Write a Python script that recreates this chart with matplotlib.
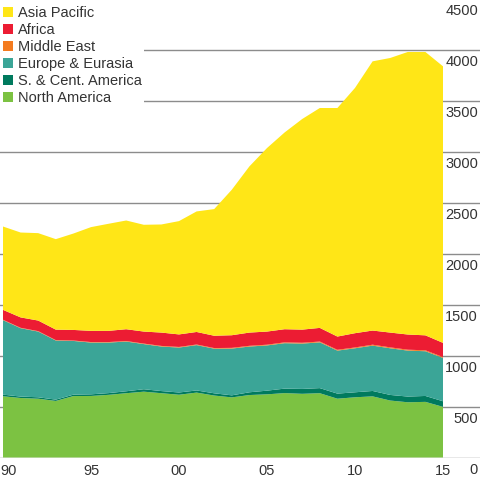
import matplotlib
matplotlib.use("Agg")
import matplotlib.pyplot as plt
import matplotlib.transforms as mtransforms
from matplotlib.patches import Patch
import numpy as np

years = list(range(1990, 2016))

# cumulative tops (Mtoe)
total_top = [2267, 2208, 2202, 2143, 2198, 2261, 2294, 2326, 2284, 2287, 2320, 2415, 2438,
             2628, 2857, 3037, 3190, 3322, 3430, 3430, 3627, 3888, 3921, 3980, 3980, 3839]
africa_top = [1449, 1375, 1344, 1255, 1252, 1243, 1243, 1259, 1236, 1226, 1208, 1232, 1195,
              1200, 1226, 1236, 1259, 1255, 1272, 1187, 1220, 1246, 1226, 1207, 1199, 1125]
europe_top = [1348, 1269, 1236, 1148, 1144, 1128, 1128, 1138, 1113, 1089, 1079, 1103, 1068,
              1069, 1089, 1100, 1122, 1118, 1130, 1049, 1072, 1098, 1072, 1049, 1043, 977]
sca_top = [617, 598, 591, 568, 617, 620, 632, 650, 670, 652, 638, 658, 630,
           610, 640, 656, 676, 673, 681, 627, 640, 653, 614, 598, 604, 552]
sca_vals = [16, 14, 14, 13, 14, 16, 17, 19, 24, 21, 22, 21, 22,
            20, 27, 36, 44, 48, 50, 50, 49, 53, 55, 56, 58, 55]
me_vals = [4, 4, 4, 4, 4, 5, 5, 5, 5, 6, 6, 6, 6,
           7, 7, 7, 8, 8, 8, 8, 8, 9, 9, 9, 9, 9]

north_america = [t - s for t, s in zip(sca_top, sca_vals)]
sc_america = sca_vals
europe = [e - s for e, s in zip(europe_top, sca_top)]
middle_east = me_vals
africa = [a - m - e for a, m, e in zip(africa_top, me_vals, europe_top)]
asia_pacific = [t - a for t, a in zip(total_top, africa_top)]

series_labels = ["North America", "S. & Cent. America", "Europe & Eurasia",
                 "Middle East", "Africa", "Asia Pacific"]
colors = ["#7cc242", "#007a5e", "#3ba597", "#f47b20", "#ec1c33", "#ffe617"]

xtick_years = [1990, 1995, 2000, 2005, 2010, 2015]
xtick_labels = ["90", "95", "00", "05", "10", "15"]
ytick_vals = [0, 500, 1000, 1500, 2000, 2500, 3000, 3500, 4000, 4500]

plt.rcParams['font.family'] = ['Liberation Sans', 'DejaVu Sans']

fig = plt.figure(figsize=(5, 4.8), dpi=100)
ax = fig.add_axes([0, 22.5 / 480, 0.96, 1 - 22.5 / 480])
ax.stackplot(years, north_america, sc_america, europe, middle_east, africa, asia_pacific,
             colors=colors, linewidth=0, zorder=2)
ax.set_xlim(1990 - 3 / 17.6, 1990 + 477 / 17.6)
ax.set_ylim(0, 4490)
ax.set_yticks([v for v in ytick_vals if v < 4490])
ax.yaxis.grid(True, color="#8c8c8c", linewidth=1.0)
ax.set_axisbelow(True)
ax.set_xticks([])
ax.tick_params(left=False, right=False, labelleft=False, labelright=False)
for s in ax.spines.values():
    s.set_visible(False)

txt_color = "#333333"
ylab_tr = mtransforms.offset_copy(
    mtransforms.blended_transform_factory(ax.transAxes, ax.transData),
    fig=fig, x=0, y=-12, units='dots')
for v in ytick_vals:
    ax.text(478 / 480, v, str(v), transform=ylab_tr, ha='right', va='center',
            fontsize=10.5, color=txt_color, clip_on=False)

xlab_tr = mtransforms.offset_copy(
    mtransforms.blended_transform_factory(ax.transData, ax.transAxes),
    fig=fig, x=0, y=-13.5, units='dots')
for yr, lab in zip(xtick_years, xtick_labels):
    if yr == xtick_years[0]:
        ax.text(ax.get_xlim()[0], 0, lab, transform=xlab_tr, ha='left', va='center',
                fontsize=10.5, color=txt_color)
    else:
        ax.text(yr, 0, lab, transform=xlab_tr, ha='center', va='center',
                fontsize=10.5, color=txt_color)

handles = [Patch(facecolor=c, edgecolor='none') for c in colors][::-1]
labels = series_labels[::-1]
leg = ax.legend(handles, labels, loc='upper left', bbox_to_anchor=(0, 1 - 3 / 480),
                bbox_transform=fig.transFigure, frameon=True, fontsize=10.5,
                handlelength=0.7, handleheight=0.7, handletextpad=0.3,
                labelspacing=0.21, borderpad=0.2, borderaxespad=0.0)
leg.get_frame().set_facecolor('white')
leg.get_frame().set_edgecolor('none')
leg.get_frame().set_alpha(1.0)
leg.get_frame().set_boxstyle('square', pad=0)
leg.set_zorder(5)
for t in leg.get_texts():
    t.set_color(txt_color)

fig.savefig("out.png", dpi=100)
